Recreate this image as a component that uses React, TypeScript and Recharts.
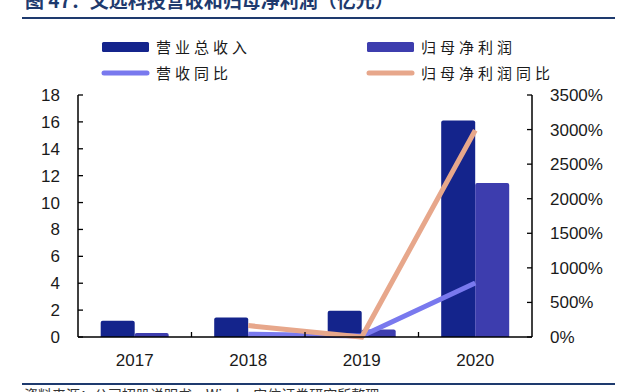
import React from 'react';
import { ComposedChart, Bar, Line, XAxis, YAxis } from 'recharts';

const years = ['2017', '2018', '2019', '2020'];
const revenue = [1.2, 1.45, 1.95, 16.1];
const netProfit = [0.3, 0.3, 0.55, 11.45];
const revenueYoY: (number | null)[] = [null, 40, 15, 780];
const netProfitYoY: (number | null)[] = [null, 165, 0, 2990];
const leftTicks = [0, 2, 4, 6, 8, 10, 12, 14, 16, 18];
const rightTicks = [0, 500, 1000, 1500, 2000, 2500, 3000, 3500];

const nameRevenue = '营业总收入';
const nameNet = '归母净利润';
const nameRevYoY = '营收同比';
const nameNetYoY = '归母净利润同比';
const titleText = '图 47：文远科技营收和归母净利润（亿元）';
const sourceText = '资料来源：公司招股说明书，Wind，安信证券研究所整理';

const COLORS = {
  revenue: '#14248C',
  net: '#3D3DAE',
  revYoY: '#7979EE',
  netYoY: '#E7A78B',
};

const data = years.map((y, i) => ({
  year: y,
  revenue: revenue[i],
  net: netProfit[i],
  revYoY: revenueYoY[i],
  netYoY: netProfitYoY[i],
}));

const legendItems = [
  { name: nameRevenue, color: COLORS.revenue, kind: 'bar', col: 0, row: 0 },
  { name: nameNet, color: COLORS.net, kind: 'bar', col: 1, row: 0 },
  { name: nameRevYoY, color: COLORS.revYoY, kind: 'line', col: 0, row: 1 },
  { name: nameNetYoY, color: COLORS.netYoY, kind: 'line', col: 1, row: 1 },
];

const NUM_FONT = '"Liberation Sans", Arial, sans-serif';
const CJK_FONT = '"Noto Sans CJK SC", "Noto Sans", sans-serif';

const XTick = (props: any) => {
  const { x, y, payload, index, visibleTicksCount, width } = props;
  const band = (typeof width === 'number' ? width : 454) / (visibleTicksCount || 4);
  const left = x - band / 2;
  return (
    <g>
      {index > 0 && (
        <line x1={left} x2={left} y1={y} y2={y - 5} stroke="#000" strokeWidth={1.3} />
      )}
      <text
        x={x}
        y={y + 29}
        textAnchor="middle"
        fontFamily={NUM_FONT}
        fontSize={17}
        fill="#1a1a1a"
      >
        {payload.value}
      </text>
    </g>
  );
};

export default function App() {
  const colX = [102, 367];
  const rowY = [47, 73];
  return (
    <div style={{ position: 'relative', width: 640, height: 392, background: '#fff', overflow: 'hidden' }}>
      <style>{'body{margin:0;}'}</style>
      <div style={{ position: 'absolute', left: 0, top: 0 }}>
        <ComposedChart
          width={640}
          height={392}
          data={data}
          margin={{ top: 95, right: 0, bottom: 0, left: 0 }}
          barCategoryGap="20%"
          barGap={0}
        >
          <XAxis
            dataKey="year"
            height={55}
            tickLine={false}
            tickSize={0}
            tickMargin={0}
            axisLine={{ stroke: '#000', strokeWidth: 1.5 }}
            tick={<XTick />}
            interval={0}
          />
          <YAxis
            yAxisId="left"
            width={78}
            domain={[0, 18]}
            ticks={leftTicks}
            interval={0}
            tickSize={-5}
            tickMargin={23}
            axisLine={{ stroke: '#000', strokeWidth: 1.5 }}
            tickLine={{ stroke: '#000', strokeWidth: 1.3 }}
            tick={{ fontFamily: NUM_FONT, fontSize: 17, fill: '#1a1a1a' }}
          />
          <YAxis
            yAxisId="right"
            orientation="right"
            width={108}
            domain={[0, 3500]}
            ticks={rightTicks}
            interval={0}
            tickSize={-5}
            tickMargin={23}
            tickFormatter={(v: number) => `${v}%`}
            axisLine={{ stroke: '#000', strokeWidth: 1.5 }}
            tickLine={{ stroke: '#000', strokeWidth: 1.3 }}
            tick={{ fontFamily: NUM_FONT, fontSize: 17, fill: '#1a1a1a' }}
          />
          <Bar yAxisId="left" dataKey="revenue" name={nameRevenue} fill={COLORS.revenue} radius={[2, 2, 0, 0]} isAnimationActive={false} />
          <Bar yAxisId="left" dataKey="net" name={nameNet} fill={COLORS.net} radius={[2, 2, 0, 0]} isAnimationActive={false} />
          <Line yAxisId="right" type="linear" dataKey="revYoY" name={nameRevYoY} stroke={COLORS.revYoY} strokeWidth={5} dot={false} activeDot={false} isAnimationActive={false} />
          <Line yAxisId="right" type="linear" dataKey="netYoY" name={nameNetYoY} stroke={COLORS.netYoY} strokeWidth={5} dot={false} activeDot={false} isAnimationActive={false} />
        </ComposedChart>
      </div>
      <svg
        width={640}
        height={392}
        style={{ position: 'absolute', left: 0, top: 0, pointerEvents: 'none' }}
      >
        <text x={25} y={8} fontFamily={CJK_FONT} fontSize={19} fontWeight="bold" fill="#1E3A6E">
          {titleText}
        </text>
        <line x1={22} x2={615} y1={18} y2={18} stroke="#1E3A6E" strokeWidth={2} />
        {legendItems.map((it) => {
          const x = colX[it.col];
          const y = rowY[it.row];
          return (
            <g key={it.name}>
              {it.kind === 'bar' ? (
                <rect x={x} y={y - 5} width={47} height={10} rx={1.5} fill={it.color} />
              ) : (
                <line x1={x + 2} x2={x + 45} y1={y} y2={y} stroke={it.color} strokeWidth={5} strokeLinecap="round" />
              )}
              <text
                x={x + 54}
                y={y + 5.5}
                fontFamily={CJK_FONT}
                fontSize={15}
                letterSpacing={4}
                fill="#1a1a1a"
              >
                {it.name}
              </text>
            </g>
          );
        })}
        <line x1={22} x2={615} y1={384} y2={384} stroke="#1E3A6E" strokeWidth={2} />
        <text x={24} y={400} fontFamily={CJK_FONT} fontSize={14} fill="#333">
          {sourceText}
        </text>
      </svg>
    </div>
  );
}
